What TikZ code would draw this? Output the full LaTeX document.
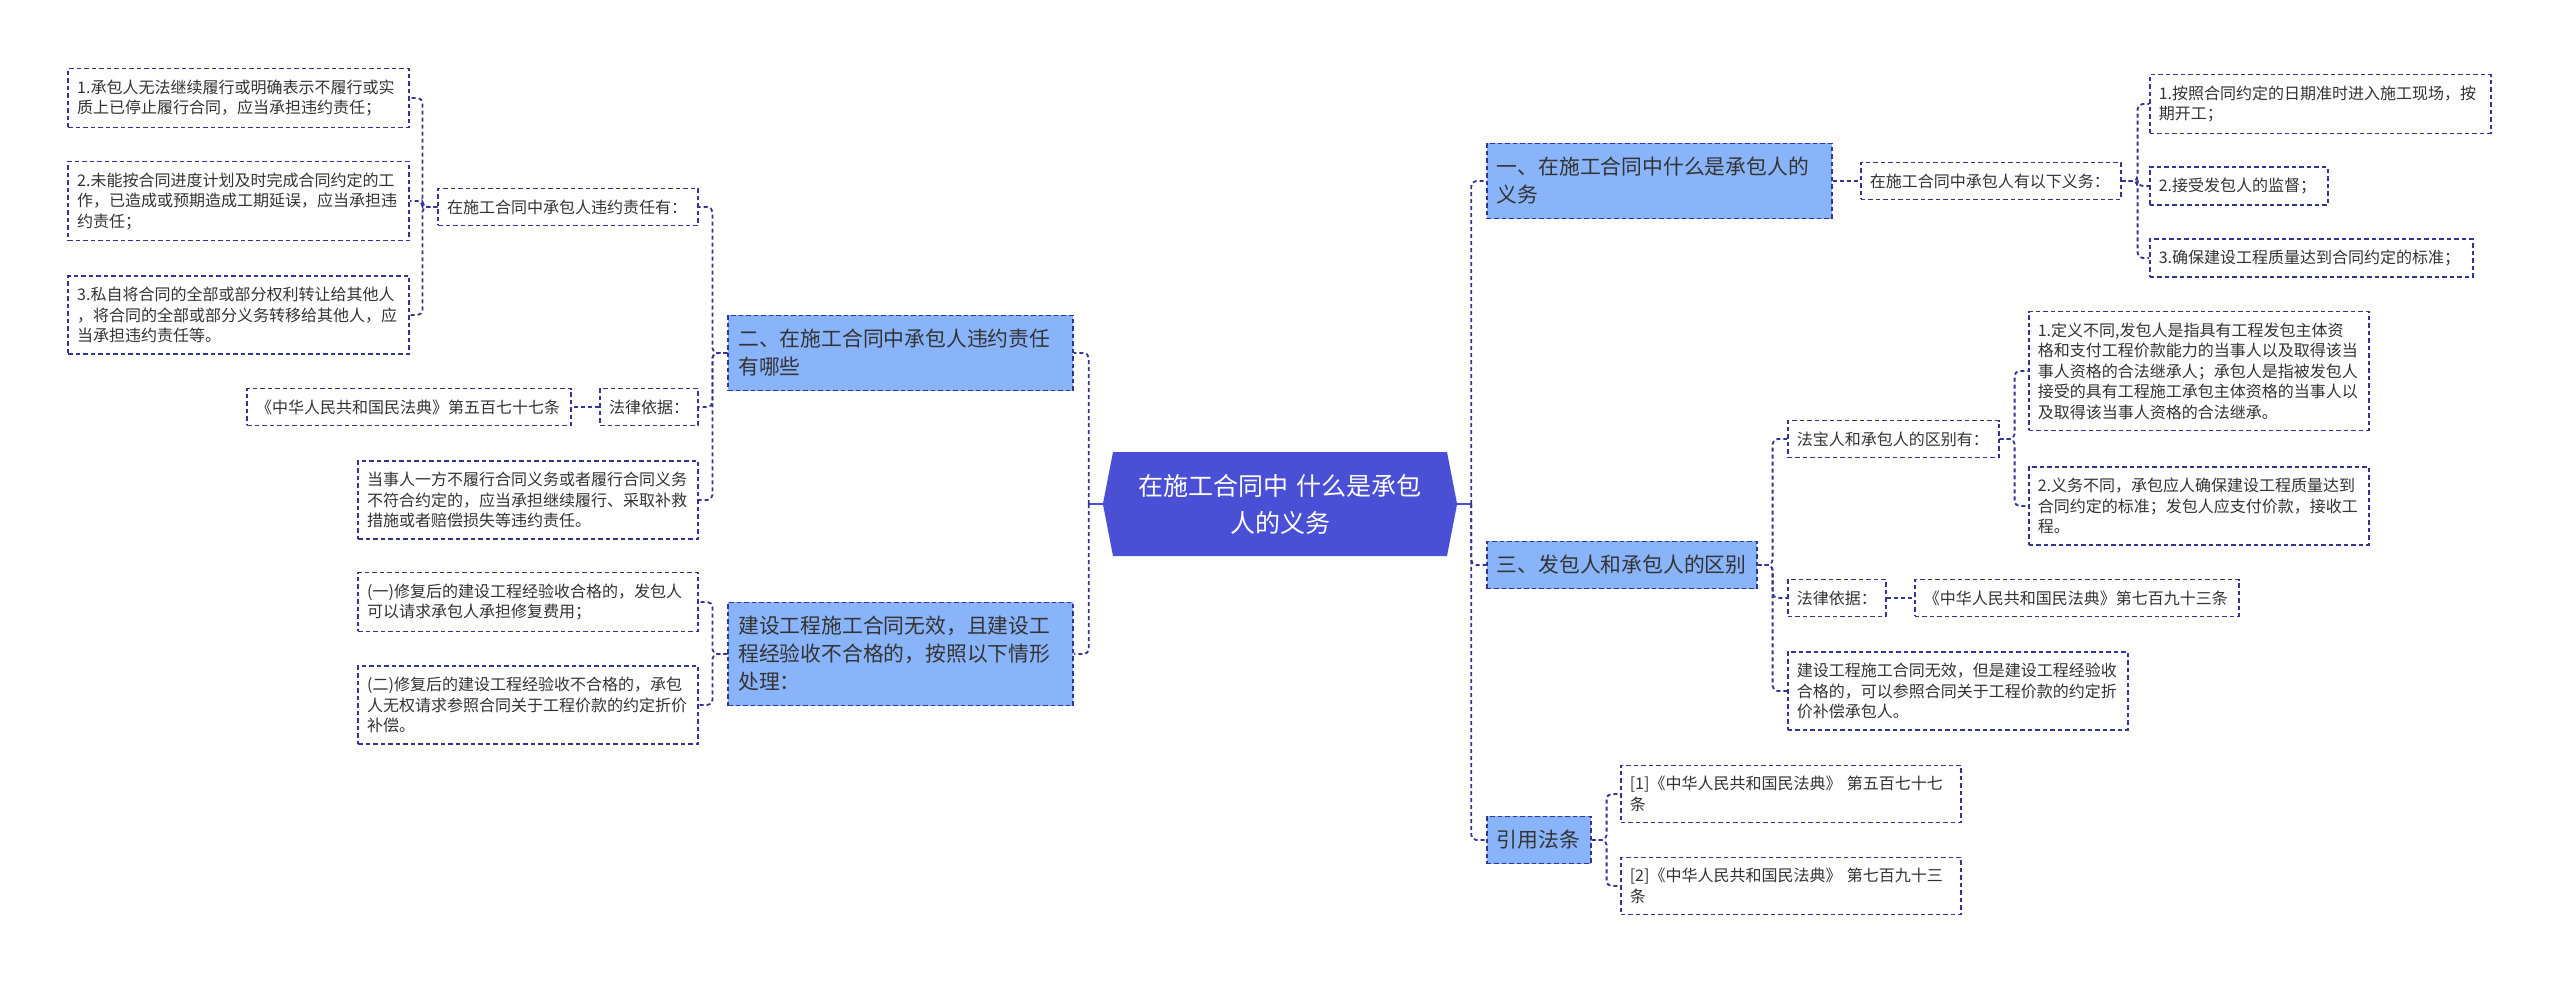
\documentclass[tikz,border=0pt]{standalone}
\usepackage{fontspec}
\setmainfont{Noto Sans CJK SC}
\usepackage{xcolor}
\usetikzlibrary{shapes.symbols}
\definecolor{rootblue}{RGB}{74,80,213}
\definecolor{topicblue}{RGB}{138,180,250}
\definecolor{dashnavy}{RGB}{52,52,150}
\definecolor{textgray}{RGB}{51,51,51}

\begin{document}
\begin{tikzpicture}[
    x=1pt, y=-1pt,
    dashlink/.style={draw=dashnavy, line width=1.8pt, dash pattern=on 4pt off 3pt, rounded corners=5pt},
    rootlink/.style={draw=rootblue, line width=2.5pt},
    leaf/.style={draw=dashnavy, line width=1.6pt, dash pattern=on 4.5pt off 3pt, fill=white, text=textgray, font=\fontsize{16}{20.5}\selectfont, align=left, inner xsep=9pt, inner ysep=11pt},
    topic/.style={leaf, fill=topicblue, font=\fontsize{20.8}{28}\selectfont, inner xsep=10pt, inner ysep=14pt},
    root/.style={signal, signal to=west and east, signal pointer angle=158, fill=rootblue, text=white, font=\fontsize{25}{37}\selectfont, align=center, text width=310pt, inner xsep=12pt, minimum height=104pt}
]
\useasboundingbox (0,0) rectangle (2560,985);

% 中心主题
\node[root] (root) at (1280,504) {在施工合同中 什么是承包\\人的义务};

% 右侧：一、承包人的义务
\node[topic, anchor=west, text width=325pt] (duty) at (1486,181) {一、在施工合同中什么是承包人的\\义务};
\node[leaf, anchor=west, text width=242pt] (dutylist) at (1860,181) {在施工合同中承包人有以下义务：};
\node[leaf, anchor=west, text width=323pt] (dutyA) at (2149,104) {1.按照合同约定的日期准时进入施工现场，按\\期开工；};
\node[leaf, anchor=west, text width=160pt] (dutyB) at (2149,186) {2.接受发包人的监督；};
\node[leaf, anchor=west, text width=305pt] (dutyC) at (2149,258) {3.确保建设工程质量达到合同约定的标准；};

% 右侧：三、区别
\node[topic, anchor=west, text width=250pt] (diff) at (1486,565) {三、发包人和承包人的区别};
\node[leaf, anchor=west, text width=193pt] (difflist) at (1787,439) {法宝人和承包人的区别有：};
\node[leaf, anchor=west, text width=322pt] (diffA) at (2028,371) {1.定义不同,发包人是指具有工程发包主体资\\格和支付工程价款能力的当事人以及取得该当\\事人资格的合法继承人；承包人是指被发包人\\接受的具有工程施工承包主体资格的当事人以\\及取得该当事人资格的合法继承。};
\node[leaf, anchor=west, text width=322pt] (diffB) at (2028,506) {2.义务不同，承包应人确保建设工程质量达到\\合同约定的标准；发包人应支付价款，接收工\\程。};
\node[leaf, anchor=west, text width=80pt] (diffbasis) at (1787,598) {法律依据：};
\node[leaf, anchor=west, text width=306pt] (diffcode) at (1914,598) {《中华人民共和国民法典》第七百九十三条};
\node[leaf, anchor=west, text width=322pt] (diffnote) at (1787,691) {建设工程施工合同无效，但是建设工程经验收\\合格的，可以参照合同关于工程价款的约定折\\价补偿承包人。};

% 右侧：引用法条
\node[topic, anchor=west, text width=84pt] (cite) at (1486,840) {引用法条};
\node[leaf, anchor=west, text width=322pt] (citeA) at (1620,794) {[1]《中华人民共和国民法典》 第五百七十七\\条};
\node[leaf, anchor=west, text width=322pt] (citeB) at (1620,886) {[2]《中华人民共和国民法典》 第七百九十三\\条};

% 左侧：二、违约责任
\node[topic, anchor=east, text width=325pt] (breach) at (1074,353) {二、在施工合同中承包人违约责任\\有哪些};
\node[leaf, anchor=east, text width=242pt] (breachlist) at (699,207) {在施工合同中承包人违约责任有：};
\node[leaf, anchor=east, text width=323pt] (breachA) at (410,98) {1.承包人无法继续履行或明确表示不履行或实\\质上已停止履行合同，应当承担违约责任；};
\node[leaf, anchor=east, text width=323pt] (breachB) at (410,201) {2.未能按合同进度计划及时完成合同约定的工\\作，已造成或预期造成工期延误，应当承担违\\约责任；};
\node[leaf, anchor=east, text width=323pt] (breachC) at (410,315) {3.私自将合同的全部或部分权利转让给其他人\\，将合同的全部或部分义务转移给其他人，应\\当承担违约责任等。};
\node[leaf, anchor=east, text width=80pt] (breachbasis) at (699,407) {法律依据：};
\node[leaf, anchor=east, text width=306pt] (breachcode) at (572,407) {《中华人民共和国民法典》第五百七十七条};
\node[leaf, anchor=east, text width=322pt] (breachnote) at (699,500) {当事人一方不履行合同义务或者履行合同义务\\不符合约定的，应当承担继续履行、采取补救\\措施或者赔偿损失等违约责任。};

% 左侧：合同无效的处理
\node[topic, anchor=east, text width=325pt] (invalid) at (1074,654) {建设工程施工合同无效，且建设工\\程经验收不合格的，按照以下情形\\处理：};
\node[leaf, anchor=east, text width=322pt] (invalidA) at (699,602) {(一)修复后的建设工程经验收合格的，发包人\\可以请求承包人承担修复费用；};
\node[leaf, anchor=east, text width=322pt] (invalidB) at (699,705) {(二)修复后的建设工程经验收不合格的，承包\\人无权请求参照合同关于工程价款的约定折价\\补偿。};

% 中心连线
\draw[rootlink] (root.east) -- ++(14,0) coordinate (rjoint);
\draw[rootlink] (root.west) -- ++(-14,0) coordinate (ljoint);
\draw[dashlink] (rjoint) |- (duty.west);
\draw[dashlink] (rjoint) |- (diff.west);
\draw[dashlink] (rjoint) |- (cite.west);
\draw[dashlink] (ljoint) |- (breach.east);
\draw[dashlink] (ljoint) |- (invalid.east);

% 右侧连线
\draw[dashlink] (duty.east) -- (dutylist.west);
\draw[dashlink] (dutylist.east) -- ++(16,0) |- (dutyA.west);
\draw[dashlink] (dutylist.east) -- ++(16,0) |- (dutyB.west);
\draw[dashlink] (dutylist.east) -- ++(16,0) |- (dutyC.west);
\draw[dashlink] (diff.east) -- ++(15,0) |- (difflist.west);
\draw[dashlink] (diff.east) -- ++(15,0) |- (diffbasis.west);
\draw[dashlink] (diff.east) -- ++(15,0) |- (diffnote.west);
\draw[dashlink] (difflist.east) -- ++(15,0) |- (diffA.west);
\draw[dashlink] (difflist.east) -- ++(15,0) |- (diffB.west);
\draw[dashlink] (diffbasis.east) -- (diffcode.west);
\draw[dashlink] (cite.east) -- ++(15,0) |- (citeA.west);
\draw[dashlink] (cite.east) -- ++(15,0) |- (citeB.west);

% 左侧连线
\draw[dashlink] (breach.west) -- ++(-15,0) |- (breachlist.east);
\draw[dashlink] (breach.west) -- ++(-15,0) |- (breachbasis.east);
\draw[dashlink] (breach.west) -- ++(-15,0) |- (breachnote.east);
\draw[dashlink] (breachlist.west) -- ++(-15,0) |- (breachA.east);
\draw[dashlink] (breachlist.west) -- ++(-15,0) |- (breachB.east);
\draw[dashlink] (breachlist.west) -- ++(-15,0) |- (breachC.east);
\draw[dashlink] (breachbasis.west) -- (breachcode.east);
\draw[dashlink] (invalid.west) -- ++(-15,0) |- (invalidA.east);
\draw[dashlink] (invalid.west) -- ++(-15,0) |- (invalidB.east);

\end{tikzpicture}
\end{document}
